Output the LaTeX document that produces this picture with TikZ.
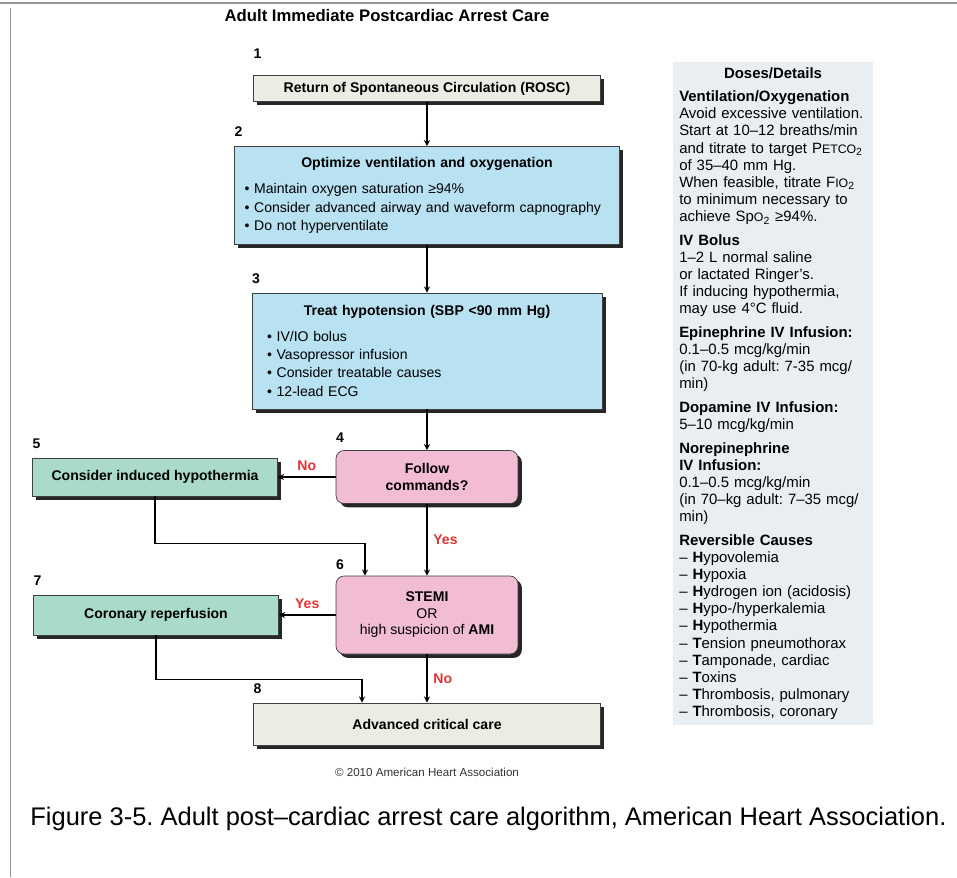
\documentclass[tikz,border=0pt]{standalone}
\usepackage{fontspec}
\setmainfont{Liberation Sans}
\usepackage{tikz}
\usetikzlibrary{arrows, shadows, positioning}
\frenchspacing

\definecolor{boxgray}{RGB}{236,236,229}
\definecolor{boxblue}{RGB}{184,225,241}
\definecolor{boxpink}{RGB}{243,188,213}
\definecolor{boxgreen}{RGB}{170,219,200}
\definecolor{panelgray}{RGB}{233,238,242}
\definecolor{labelred}{RGB}{222,52,52}
\definecolor{framegray}{RGB}{150,150,150}

\begin{document}
\begin{tikzpicture}[
        x = 0.02cm, y = -0.02cm, % one unit = one pixel of the layout
        > = stealth, % arrow head style
        semithick, % line style
        font = \fontsize{8}{10}\selectfont
    ]

    \tikzstyle{box}=[
        draw = black!75,
        thin,
        inner sep = 0pt,
        align = center,
        font = \fontsize{8}{9.6}\selectfont\bfseries,
        drop shadow = {shadow xshift=2.2pt, shadow yshift=-2.2pt, fill=black!85, opacity=1}
    ]
    \tikzstyle{gray box}=[box, fill=boxgray]
    \tikzstyle{blue box}=[box, fill=boxblue, align=left, font=\fontsize{8}{10.4}\selectfont]
    \tikzstyle{green box}=[box, fill=boxgreen]
    \tikzstyle{pink box}=[box, fill=boxpink, rounded corners=0.16cm, minimum width=3.64cm]
    \tikzstyle{num}=[font=\fontsize{8}{10}\selectfont\bfseries, inner sep=0pt, anchor=south west]
    \tikzstyle{lbl}=[text=labelred, font=\fontsize{8}{10}\selectfont\bfseries]

    % frame of the page
    \useasboundingbox (0,0) rectangle (957,877);
    \draw[framegray, line width=1.2pt] (0,3) -- (957,3);
    \draw[framegray, thin] (10,8) -- (10,877);

    \node[font=\fontsize{9.5}{11}\selectfont\bfseries] (ttl) at (387,16) {Adult Immediate Postcardiac Arrest Care};

    % flow chart
    \node[gray box, minimum width=6.94cm, minimum height=0.52cm] (b1) at (427,88.5) {Return of Spontaneous Circulation (ROSC)};
    \node[blue box, inner xsep=0.2cm, text width=7.3cm, minimum height=1.96cm] (b2) at (427,195.5) {%
        \makebox[\linewidth]{\bfseries Optimize ventilation and oxygenation}\\[4.3pt]
        • Maintain oxygen saturation ≥94\%\\
        • Consider advanced airway and waveform capnography\\
        • Do not hyperventilate};
    \node[blue box, inner xsep=0.3cm, text width=6.4cm, minimum height=2.32cm] (b3) at (427,351) {%
        \makebox[\linewidth]{\bfseries Treat hypotension (SBP <90 mm Hg)}\\[4pt]
        • IV/IO bolus\\
        • Vasopressor infusion\\
        • Consider treatable causes\\
        • 12-lead ECG};
    \node[pink box, minimum height=1.06cm] (b4) at (427,477) {Follow\\commands?};
    \node[green box, minimum width=4.9cm, minimum height=0.76cm] (b5) at (155,477) {Consider induced hypothermia};
    \node[pink box, minimum height=1.56cm, font=\fontsize{8}{9.4}\selectfont] (b6) at (427,615) {\textbf{STEMI}\\OR\\high suspicion of \textbf{AMI}};
    \node[green box, minimum width=4.9cm, minimum height=0.8cm] (b7) at (156,615) {Coronary reperfusion};
    \node[gray box, minimum width=6.94cm, minimum height=0.84cm] (b8) at (427,724) {Advanced critical care};

    \node[num, above right=9pt and 0pt of b1.north west] {1};
    \node[num, above right=5pt and 0pt of b2.north west] {2};
    \node[num, above right=5pt and 0pt of b3.north west] {3};
    \node[num, above right=4pt and 0pt of b4.north west] {4};
    \node[num, above right=5pt and 0pt of b5.north west] {5};
    \node[num, above right=3pt and 0pt of b6.north west] {6};
    \node[num, above right=5pt and 0pt of b7.north west] {7};
    \node[num, above right=5pt and 0pt of b8.north west] {8};

    \path[->] (b1) edge node {} (b2);
    \path[->] (b2) edge node {} (b3);
    \path[->] (b3) edge node {} (b4);
    \path[->] (b4) edge node[lbl, above] {No} (b5);
    \path[->] (b4) edge node[lbl, right] {Yes} (b6);
    \path[->] (b6) edge node[lbl, above] {Yes} (b7);
    \path[->] (b6) edge node[lbl, right] {No} (b8);
    \draw[->] (b5.south) |- ([xshift=-1.24cm, yshift=0.64cm]b6.north) -- ([xshift=-1.24cm]b6.north);
    \draw[->] (b7.south) |- ([xshift=-1.3cm, yshift=0.46cm]b8.north) -- ([xshift=-1.3cm]b8.north);

    \node[font=\fontsize{6.6}{8}\selectfont, text=black!80] (cpy) at (427,772) {© 2010 American Heart Association};

    % doses and details
    \node[fill=panelgray, anchor=north west, inner xsep=0.135cm, inner ysep=0pt, text width=3.75cm,
          minimum height=13.28cm, align=left, font=\fontsize{8.5}{9.75}\selectfont] (dose) at (672,61) {%
        \makebox[\linewidth]{\bfseries Doses/Details}\\[3.7pt]
        \textbf{Ventilation/Oxygenation}\\
        Avoid excessive ventilation.\\
        Start at 10–12 breaths/min\\
        and titrate to target P{\scriptsize ETCO}\textsubscript{2}\\
        of 35–40 mm Hg.\\
        When feasible, titrate F{\scriptsize IO}\textsubscript{2}\\
        to minimum necessary to\\
        achieve Sp{\scriptsize O}\textsubscript{2} ≥94\%.\\[3.7pt]
        \textbf{IV Bolus}\\
        1–2 L normal saline\\
        or lactated Ringer’s.\\
        If inducing hypothermia,\\
        may use 4°C fluid.\\[3.7pt]
        \textbf{Epinephrine IV Infusion:}\\
        0.1–0.5 mcg/kg/min\\
        (in 70-kg adult: 7-35 mcg/\\
        min)\\[3.7pt]
        \textbf{Dopamine IV Infusion:}\\
        5–10 mcg/kg/min\\[3.7pt]
        \textbf{Norepinephrine}\\
        \textbf{IV Infusion:}\\
        0.1–0.5 mcg/kg/min\\
        (in 70–kg adult: 7–35 mcg/\\
        min)\\[3.7pt]
        \textbf{Reversible Causes}\\
        – \textbf{H}ypovolemia\\
        – \textbf{H}ypoxia\\
        – \textbf{H}ydrogen ion (acidosis)\\
        – \textbf{H}ypo-/hyperkalemia\\
        – \textbf{H}ypothermia\\
        – \textbf{T}ension pneumothorax\\
        – \textbf{T}amponade, cardiac\\
        – \textbf{T}oxins\\
        – \textbf{T}hrombosis, pulmonary\\
        – \textbf{T}hrombosis, coronary};

    \node[font=\fontsize{14.5}{17}\selectfont, anchor=west] (cap) at (24,819) {Figure 3-5. Adult post–cardiac arrest care algorithm, American Heart Association.};

\end{tikzpicture}
\end{document}
